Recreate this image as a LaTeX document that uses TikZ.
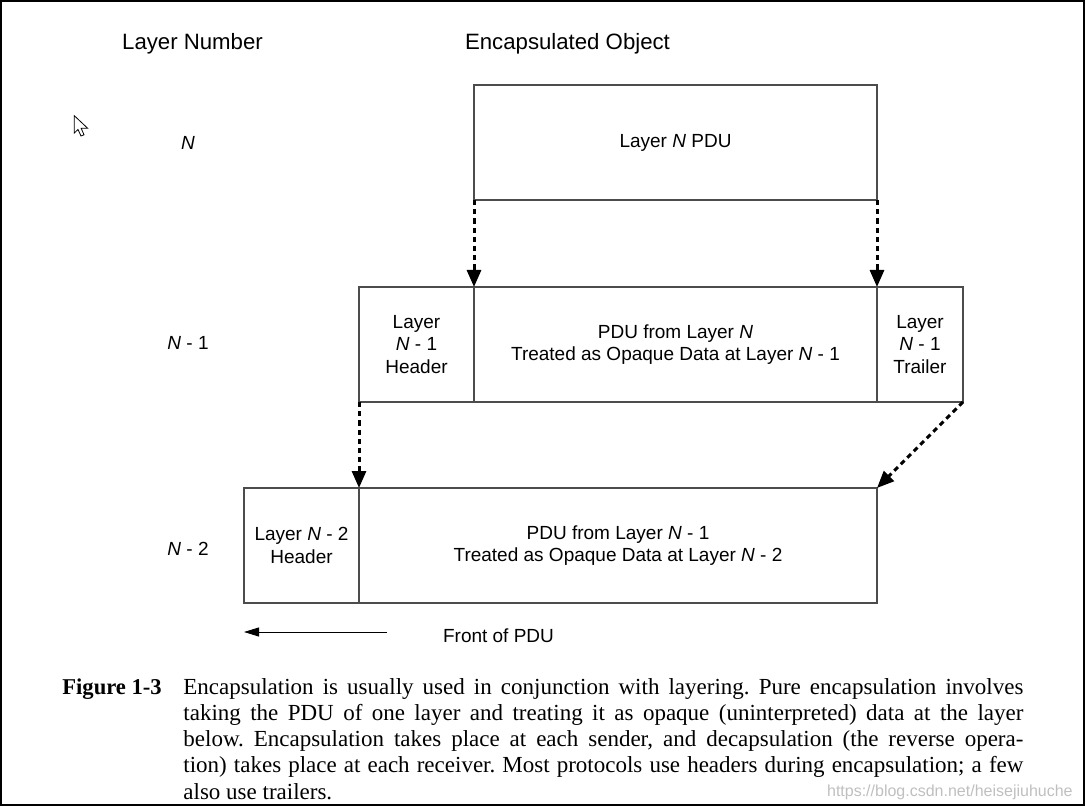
\documentclass[tikz,border=0pt]{standalone}
\usepackage{fontspec}
\setmainfont{Liberation Serif}
\setsansfont{Liberation Sans}
\usetikzlibrary{positioning,arrows.meta}
\frenchspacing

\tikzset{
  layerbox/.style={draw=black!70, line width=0.7pt, inner sep=0pt, outer sep=0pt, align=center, font=\sffamily\fontsize{9.5}{11.3}\selectfont},
  sidelabel/.style={anchor=base, font=\sffamily\fontsize{9.5}{11.3}\selectfont},
  headlabel/.style={anchor=base, font=\sffamily\fontsize{11.1}{13}\selectfont},
  pushdown/.style={-{Triangle[length=8.5pt,width=7pt]}, line width=1.5pt, dash pattern=on 2.6pt off 2pt},
}

\begin{document}
\begin{tikzpicture}[x=0.5pt, y=-0.5pt]
    \useasboundingbox (0,0) rectangle (1086,807);
    % Frame
    \draw[line width=1.2pt] (1,1) rectangle (1084,805);

    % Column headers
    \node[headlabel] (colnum) at (192.5,50) {Layer Number};
    \node[headlabel] (colobj) at (567.5,50) {Encapsulated Object};

    % Layer numbers
    \foreach \y/\lab/\nm in {150/{\textit{N}}/lblN, 350/{\textit{N} - 1}/lblA, 555/{\textit{N} - 2}/lblB} {
        \node[sidelabel] (\nm) at (188,\y) {\lab};
    }

    % Layer N
    \node[layerbox, minimum width=201.5pt, minimum height=57.5pt] (pduN) at (675.5,142.5) {\raisebox{-1pt}{Layer \textit{N} PDU}};

    % Layer N - 1
    \node[layerbox, minimum width=201.5pt, minimum height=57.5pt] (pduA) at (675.5,344.5) {PDU from Layer \textit{N}\\Treated as Opaque Data at Layer \textit{N} - 1};
    \node[layerbox, minimum width=57.5pt, minimum height=57.5pt, left=0pt of pduA] (hdrA) {Layer\\\textit{N} - 1\\Header};
    \node[layerbox, minimum width=43pt, minimum height=57.5pt, right=0pt of pduA] (trlA) {Layer\\\textit{N} - 1\\Trailer};

    % Layer N - 2
    \node[layerbox, minimum width=259pt, minimum height=57.5pt] (pduB) at (618,545.5) {PDU from Layer \textit{N} - 1\\Treated as Opaque Data at Layer \textit{N} - 2};
    \node[layerbox, minimum width=57.5pt, minimum height=57.5pt, left=0pt of pduB] (hdrB) {Layer \textit{N} - 2\\Header};

    % Encapsulation arrows
    \draw[pushdown] (pduN.south west) -- (pduA.north west);
    \draw[pushdown] (pduN.south east) -- (pduA.north east);
    \draw[pushdown] (hdrA.south west) -- (pduB.north west);
    \draw[pushdown] (trlA.south east) -- (pduB.north east);

    % Front of PDU
    \coordinate (fronttail) at (387,632);
    \draw[-{Triangle[length=7.5pt,width=4.5pt]}, line width=0.5pt] (fronttail) -- (fronttail -| hdrB.west);
    \node[sidelabel] (front) at (498.5,642) {Front of PDU};

    % Caption
    \node[anchor=base west, inner sep=0pt, font=\bfseries\fontsize{11.3}{13.15}\selectfont] (figlabel) at (62,694) {Figure 1-3};
    \node[anchor=base west, inner sep=0pt, text width=420pt, align=justify, font=\fontsize{11.5}{13.15}\selectfont] (caption) at (183,694) {Encapsulation is usually used in conjunction with layering. Pure encapsulation involves\linebreak
      taking the PDU of one layer and treating it as opaque (uninterpreted) data at the layer\linebreak
      below. Encapsulation takes place at each sender, and decapsulation (the reverse opera-\linebreak
      tion) takes place at each receiver. Most protocols use headers during encapsulation; a few\linebreak
      also use trailers.};

    % Watermark
    \node[anchor=base east, inner sep=0pt, text=black!25, font=\sffamily\fontsize{8}{9}\selectfont] (mark) at (1073,796) {https://blog.csdn.net/heisejiuhuche};

    % Cursor
    \draw[fill=white, line width=0.4pt] (74.3,115.7) -- (74.3,133) -- (78,129.5) -- (81,136) -- (84,134.8) -- (81.2,128.3) -- (87.7,128.3) -- cycle;
\end{tikzpicture}
\end{document}
